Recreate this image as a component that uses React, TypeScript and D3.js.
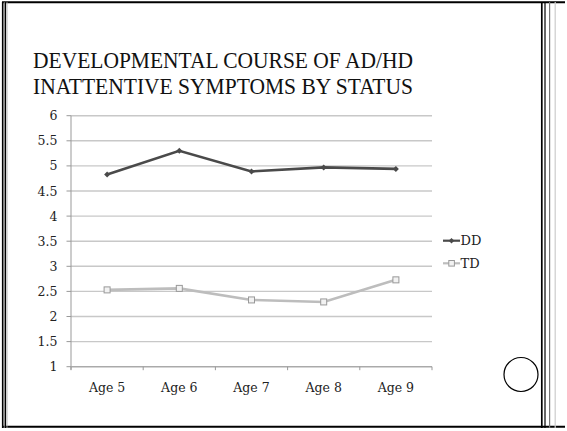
import React from "react";
import * as d3 from "d3";

const categories = ["Age 5", "Age 6", "Age 7", "Age 8", "Age 9"];
const ddValues = [4.83, 5.3, 4.89, 4.97, 4.94];
const tdValues = [2.53, 2.56, 2.33, 2.29, 2.73];
const yTicks = [1, 1.5, 2, 2.5, 3, 3.5, 4, 4.5, 5, 5.5, 6];
const titleLines = ["DEVELOPMENTAL COURSE OF AD/HD", "INATTENTIVE SYMPTOMS BY STATUS"];
const seriesNames = ["DD", "TD"];

export default function App() {
  const W = 567, H = 431;
  const x0 = 71, x1 = 432, yTop = 115.7, yBot = 366.7;
  const x = d3.scaleBand<string>().domain(categories).range([x0, x1]);
  const y = d3.scaleLinear().domain([1, 6]).range([yBot, yTop]);
  const cx = (c: string) => (x(c) as number) + x.bandwidth() / 2;
  const line = d3.line<number>().x((_, i) => cx(categories[i])).y((v) => y(v));
  const boundaries = [...categories.map((c) => x(c) as number), x1];
  const serif = "DejaVu Serif, Liberation Serif, Noto Serif, Times New Roman, Times, serif";
  const titleFont = "Liberation Serif, Times New Roman, DejaVu Serif, Noto Serif, Times, serif";
  const diamond = (px: number, py: number, r: number) =>
    `M${px},${py - r}L${px + r},${py}L${px},${py + r}L${px - r},${py}Z`;

  return (
    <svg width={W} height={H} style={{ position: "absolute", left: 0, top: 0, background: "#fff" }}>
      {/* slide frame */}
      <line x1={2} x2={565} y1={2.2} y2={2.2} stroke="#000" strokeWidth={2} />
      <line x1={2} x2={565} y1={426.8} y2={426.8} stroke="#000" strokeWidth={2} />
      <line x1={2.7} x2={2.7} y1={2} y2={428} stroke="#000" strokeWidth={1.6} />
      <line x1={4.3} x2={4.3} y1={2} y2={428} stroke="#888" strokeWidth={1} />
      <line x1={5.5} x2={5.5} y1={2} y2={428} stroke="#000" strokeWidth={1.2} />
      <line x1={7} x2={7} y1={2} y2={428} stroke="#aaa" strokeWidth={0.8} />
      <line x1={541.8} x2={541.8} y1={2} y2={428} stroke="#000" strokeWidth={1.7} />
      <line x1={545} x2={545} y1={2} y2={428} stroke="#000" strokeWidth={1.2} />
      <line x1={549.6} x2={549.6} y1={2} y2={428} stroke="#777" strokeWidth={1.2} />
      <line x1={555.2} x2={555.2} y1={2} y2={428} stroke="#ccc" strokeWidth={1.2} />
      <circle cx={521} cy={374.5} r={17} fill="#fff" stroke="#000" strokeWidth={1.2} />

      {/* title */}
      {titleLines.map((t, i) => (
        <text key={t} x={33} y={68 + i * 26} fontFamily={titleFont} fontSize={22.5}
          textLength={380} lengthAdjust="spacingAndGlyphs" fill="#111">{t}</text>
      ))}

      {/* gridlines */}
      {yTicks.map((t) => (
        <line key={t} x1={x0} x2={x1} y1={y(t)} y2={y(t)} stroke="#c8c8c8" strokeWidth={1.4} />
      ))}
      {/* axes */}
      <line x1={x0} x2={x0} y1={yTop} y2={yBot + 3} stroke="#999" strokeWidth={1} />
      <line x1={x0} x2={x1} y1={yBot} y2={yBot} stroke="#aaa" strokeWidth={1.2} />
      {yTicks.map((t) => (
        <line key={"yt" + t} x1={x0 - 4.5} x2={x0} y1={y(t)} y2={y(t)} stroke="#999" strokeWidth={1} />
      ))}
      {boundaries.map((b, i) => (
        <line key={"xt" + i} x1={b} x2={b} y1={yBot} y2={yBot + 3.5} stroke="#999" strokeWidth={1} />
      ))}
      {yTicks.map((t) => (
        <text key={"yl" + t} x={57.5} y={y(t)} dy="0.36em" textAnchor="end" fontFamily={serif}
          fontSize={12.5} fill="#222">{String(t)}</text>
      ))}
      {categories.map((c) => (
        <text key={c} x={cx(c)} y={392} textAnchor="middle" fontFamily={serif} fontSize={12.5} fill="#222">{c}</text>
      ))}

      {/* series */}
      <path d={line(tdValues) as string} fill="none" stroke="#bdbdbd" strokeWidth={2.6} />
      {tdValues.map((v, i) => (
        <rect key={"td" + i} x={cx(categories[i]) - 3} y={y(v) - 3} width={6} height={6}
          fill="#f2f2f2" stroke="#999" strokeWidth={1} />
      ))}
      <path d={line(ddValues) as string} fill="none" stroke="#4a4a4a" strokeWidth={2.6} />
      {ddValues.map((v, i) => (
        <path key={"dd" + i} d={diamond(cx(categories[i]), y(v), 3)} fill="#4a4a4a" />
      ))}

      {/* legend */}
      <line x1={443} x2={460} y1={240.7} y2={240.7} stroke="#4a4a4a" strokeWidth={2.2} />
      <path d={diamond(451.5, 240.7, 2.8)} fill="#4a4a4a" />
      <text x={460.5} y={240.7} dy="0.36em" fontFamily={serif} fontSize={13} fill="#222">{seriesNames[0]}</text>
      <line x1={443} x2={460} y1={263.3} y2={263.3} stroke="#bdbdbd" strokeWidth={2.2} />
      <rect x={448.8} y={260.5} width={5.6} height={5.6} fill="#f2f2f2" stroke="#999" strokeWidth={1} />
      <text x={460.5} y={263.3} dy="0.36em" fontFamily={serif} fontSize={13} fill="#222">{seriesNames[1]}</text>
    </svg>
  );
}
